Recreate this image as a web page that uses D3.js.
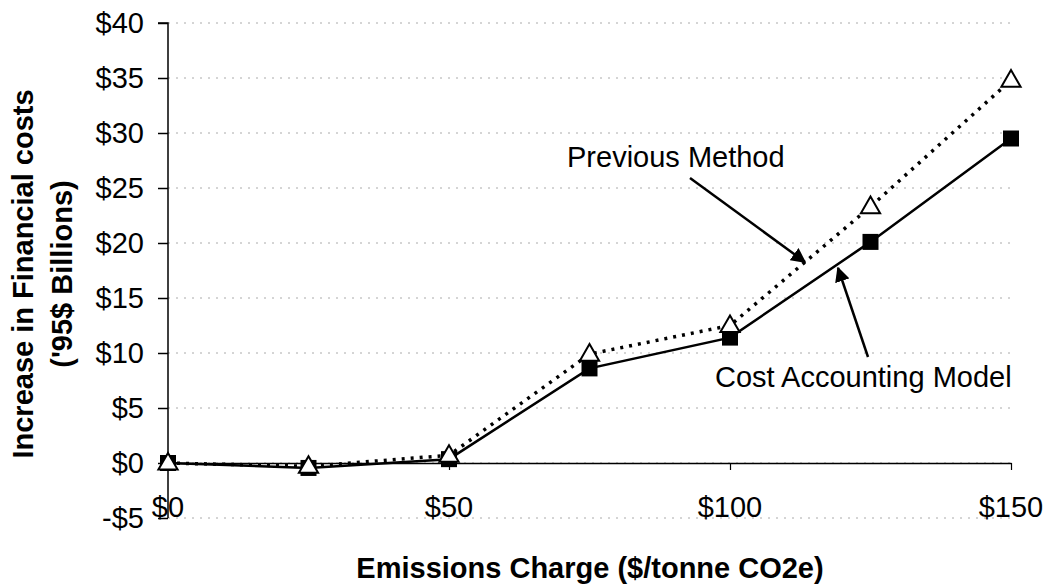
<!DOCTYPE html>
<html>
<head>
<meta charset="utf-8">
<script src="https://cdn.jsdelivr.net/npm/d3@7"></script>
<style>
  body { margin: 0; background: #fff; }
  svg { font-family: Arial, "Liberation Sans", sans-serif; }
</style>
</head>
<body>
<svg id="chart" width="1047" height="588"></svg>
<script>
// Emissions charge categories ($/tonne CO2e)
const charges = [0, 25, 50, 75, 100, 125, 150]
// Increase in financial costs ('95$ billions)
const costAccounting = [0, -0.45, 0.35, 8.6, 11.4, 20.1, 29.5]
const previousMethod = [0, -0.3, 0.7, 9.9, 12.5, 23.3, 34.8]
const yTicks = [-5, 0, 5, 10, 15, 20, 25, 30, 35, 40]
const xTicks = [0, 50, 100, 150]

const svg = d3.select('#chart')
const fontSize = '29px'

// Plot area
const x = d3.scaleLinear().domain([0, 150]).range([168, 1011])
const y = d3.scaleLinear().domain([-5, 40]).range([518, 23])

// Dotted horizontal gridlines
svg.append('g')
  .selectAll('line')
  .data(yTicks)
  .enter()
  .append('line')
  .attr('x1', x(0)).attr('x2', x(150))
  .attr('y1', d => y(d)).attr('y2', d => y(d))
  .style('stroke', '#aaa')
  .style('stroke-width', 1)
  .style('stroke-dasharray', '2,6')

// Y axis with ticks to the left
const yAxis = d3.axisLeft(y)
  .tickValues(yTicks)
  .tickSize(10)
  .tickPadding(14)
  .tickFormat(d => (d < 0 ? '-$' + Math.abs(d) : '$' + d))
svg.append('g')
  .attr('transform', `translate(${x(0)},0)`)
  .call(yAxis)
  .call(g => g.select('.domain').attr('d', `M-10,${y(40)}H0V${y(-5)}`).style('stroke-width', 1.5))
  .call(g => g.selectAll('.tick line').style('stroke-width', 1.5))
  .call(g => g.selectAll('text').style('font-size', fontSize).style('fill', '#000'))

// Zero line (category axis) with ticks going down
const xAxis = d3.axisBottom(x)
  .tickValues(xTicks)
  .tickSize(7)
  .tickSizeOuter(0)
  .tickFormat('')
svg.append('g')
  .attr('transform', `translate(0,${y(0)})`)
  .call(xAxis)
  .call(g => g.select('.domain').style('stroke-width', 1.5))
  .call(g => g.selectAll('.tick line').style('stroke-width', 1.2))

// X tick labels sit down at the -$5 level
svg.append('g')
  .selectAll('text')
  .data(xTicks)
  .enter()
  .append('text')
  .attr('x', d => x(d))
  .attr('y', 517)
  .attr('text-anchor', 'middle')
  .style('font-size', fontSize)
  .text(d => '$' + d)

// Series
const line = d3.line()
  .x((d, i) => x(charges[i]))
  .y(d => y(d))

svg.append('path')
  .datum(costAccounting)
  .attr('d', line)
  .style('fill', 'none')
  .style('stroke', '#000')
  .style('stroke-width', 2.5)

svg.append('path')
  .datum(previousMethod)
  .attr('d', line)
  .style('fill', 'none')
  .style('stroke', '#000')
  .style('stroke-width', 3.5)
  .style('stroke-dasharray', '3,6')

// Square markers
svg.append('g')
  .selectAll('rect')
  .data(costAccounting)
  .enter()
  .append('rect')
  .attr('x', (d, i) => x(charges[i]) - 8)
  .attr('y', d => y(d) - 8)
  .attr('width', 16).attr('height', 16)
  .style('fill', '#000')

// Triangle markers (open)
const tri = d3.symbol().type(d3.symbolTriangle).size(160)
svg.append('g')
  .selectAll('path')
  .data(previousMethod)
  .enter()
  .append('path')
  .attr('d', tri)
  .attr('transform', (d, i) => `translate(${x(charges[i])},${y(d) + 1})`)
  .style('fill', '#fff')
  .style('stroke', '#000')
  .style('stroke-width', 2)

// Annotations with arrows
const defs = svg.append('defs')
defs.append('marker')
  .attr('id', 'arrow')
  .attr('viewBox', '0 0 10 10')
  .attr('refX', 9).attr('refY', 5)
  .attr('markerWidth', 6).attr('markerHeight', 6)
  .attr('markerUnits', 'strokeWidth')
  .attr('orient', 'auto')
  .append('path')
  .attr('d', 'M0,0L10,5L0,10z')
  .style('fill', '#000')

const notes = [
  { text: 'Previous Method', tx: 567, ty: 167, x1: 690, y1: 178, x2: 805, y2: 262 },
  { text: 'Cost Accounting Model', tx: 715, ty: 387, x1: 868, y1: 357, x2: 838, y2: 268 }
]
svg.append('g')
  .selectAll('text')
  .data(notes)
  .enter()
  .append('text')
  .attr('x', d => d.tx).attr('y', d => d.ty)
  .style('font-size', fontSize)
  .text(d => d.text)
svg.append('g')
  .selectAll('line')
  .data(notes)
  .enter()
  .append('line')
  .attr('x1', d => d.x1).attr('y1', d => d.y1)
  .attr('x2', d => d.x2).attr('y2', d => d.y2)
  .style('stroke', '#000')
  .style('stroke-width', 2.5)
  .attr('marker-end', 'url(#arrow)')

// Axis titles
svg.append('text')
  .attr('x', 590).attr('y', 578)
  .attr('text-anchor', 'middle')
  .style('font-size', fontSize).style('font-weight', 'bold')
  .text('Emissions Charge ($/tonne CO2e)')

const yTitle = svg.append('text')
  .attr('transform', 'translate(0,274) rotate(-90)')
  .attr('text-anchor', 'middle')
  .style('font-size', fontSize).style('font-weight', 'bold')
yTitle.append('tspan').attr('x', 0).attr('y', 33).text('Increase in Financial costs')
yTitle.append('tspan').attr('x', 0).attr('y', 72).text("('95$ Billions)")
</script>
</body>
</html>
